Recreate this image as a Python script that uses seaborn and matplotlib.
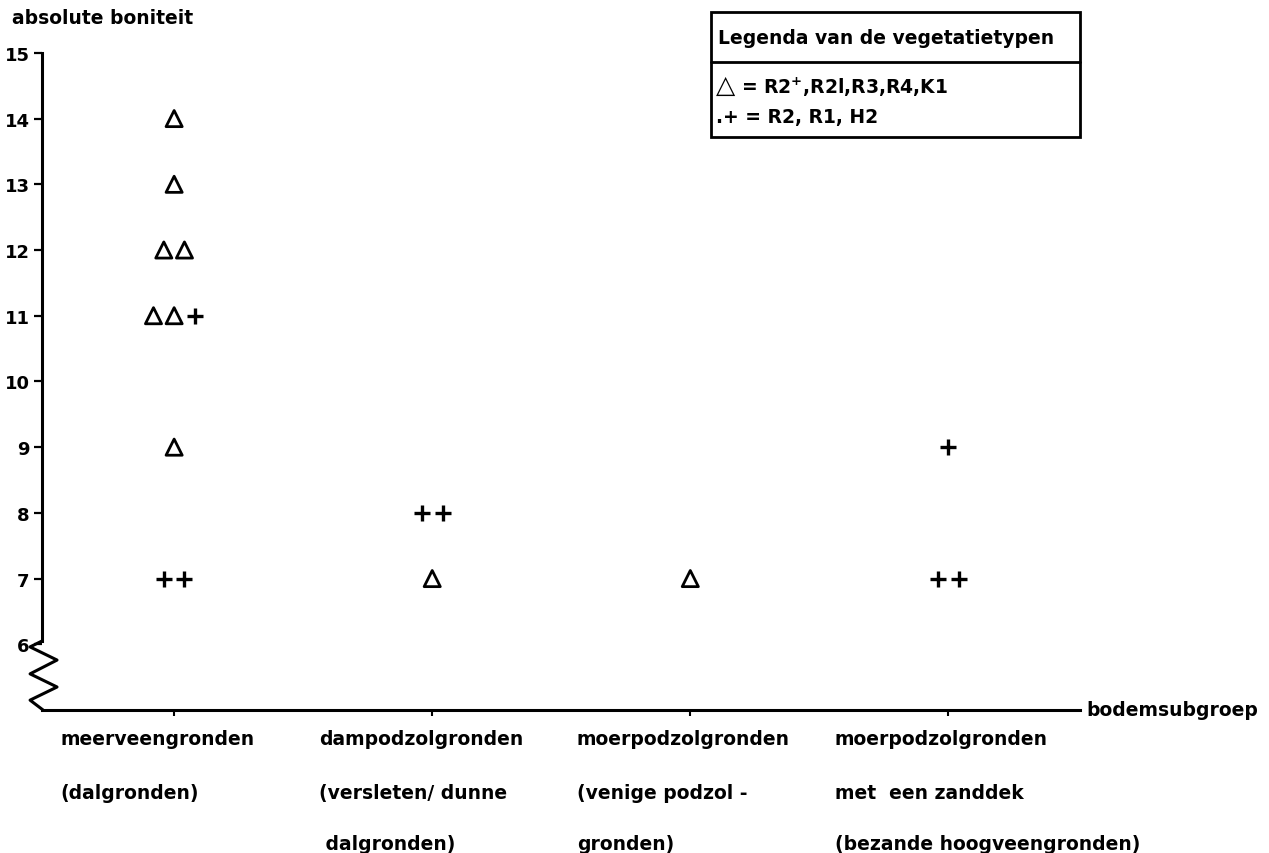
import seaborn as sns
import pandas as pd
import matplotlib.pyplot as plt
import matplotlib.transforms as mtransforms
from matplotlib.patches import Rectangle
from matplotlib.lines import Line2D

# soil subgroups (x categories), three label lines each
categories = ['meerveengronden', 'dampodzolgronden', 'moerpodzolgronden', 'moerpodzolgronden met zanddek']
cat_labels = [
    ['meerveengronden', '(dalgronden)', ''],
    ['dampodzolgronden', '(versleten/ dunne', ' dalgronden)'],
    ['moerpodzolgronden', '(venige podzol -', 'gronden)'],
    ['moerpodzolgronden', 'met  een zanddek', '(bezande hoogveengronden)'],
]

# observations: subgroup index, absolute site index, vegetation group
cat_idx = [0, 0, 0, 0, 0, 0, 0, 0, 0, 0, 1, 1, 1, 2, 3, 3, 3]
boniteit = [14, 13, 12, 12, 11, 11, 11, 9, 7, 7, 8, 8, 7, 7, 9, 7, 7]
veg_type = ['tri', 'tri', 'tri', 'tri', 'tri', 'tri', 'plus', 'tri', 'plus', 'plus',
            'plus', 'plus', 'tri', 'tri', 'plus', 'plus', 'plus']

y_ticks = list(range(6, 16))

df = pd.DataFrame({'cat': cat_idx, 'val': boniteit, 'veg': veg_type})
# marks sharing a cell are set side by side
grp = df.groupby(['cat', 'val'])
df['n'] = grp['val'].transform('size')
df['k'] = grp.cumcount()
df['x'] = df['cat'] + (df['k'] - (df['n'] - 1) / 2) * 0.08

sns.set_style('white')
plt.rcParams['font.family'] = ['DejaVu Sans']
plt.rcParams['font.weight'] = 'bold'
plt.rcParams['text.color'] = 'black'
plt.rcParams['ytick.color'] = 'black'
plt.rcParams['xtick.color'] = 'black'

fig = plt.figure(figsize=(12.69, 8.54), dpi=100)
ax = fig.add_axes([42 / 1269, 143 / 854, 1038 / 1269, 690 / 854])

sns.scatterplot(data=df[df.veg == 'tri'], x='x', y='val', marker='^', s=135,
                facecolors='none', edgecolor='black', linewidth=2, ax=ax, legend=False)
sns.scatterplot(data=df[df.veg == 'plus'], x='x', y='val', marker='+', s=135,
                color='black', linewidth=2.4, ax=ax, legend=False)

ax.set_xlim(-0.512, 3.51)
ax.set_ylim(5.0, 15.5)
ax.set_xlabel('')
ax.set_ylabel('')

for s in ['top', 'right']:
    ax.spines[s].set_visible(False)
for s in ['left', 'bottom']:
    ax.spines[s].set_linewidth(2.2)
    ax.spines[s].set_color('black')
ax.spines['left'].set_bounds(6.05, 15)

ax.set_yticks(y_ticks)
ax.set_yticklabels([str(t) for t in y_ticks], fontsize=13)
ax.set_xticks(range(len(categories)))
ax.set_xticklabels([])
ax.tick_params(axis='y', direction='out', length=6, width=1.6, pad=3, left=True)
ax.tick_params(axis='x', direction='out', length=4, width=1.5, bottom=True)

# axis break zigzag under 6
bt = mtransforms.blended_transform_factory(ax.transAxes, ax.transData)
zx = [0, -0.0115, 0.0145, -0.0115, 0.0145, -0.0115, 0.001]
zy = [6.05, 5.96, 5.76, 5.55, 5.35, 5.15, 5.0]
ax.add_line(Line2D(zx, zy, transform=bt, color='black', lw=2.2, clip_on=False))

fx = lambda p: p / 1269
fy = lambda p: (854 - p) / 854

fig.text(fx(12), fy(19), 'absolute boniteit', fontsize=13.5, ha='left', va='center')
ax.text(1.006, 0.0, 'bodemsubgroep', transform=ax.transAxes, fontsize=13.5,
        ha='left', va='center')

# category labels below the axis
lt = mtransforms.blended_transform_factory(ax.transData, fig.transFigure)
line_y = [fy(740), fy(794), fy(845)]
for i, lines in enumerate(cat_labels):
    for j, txt in enumerate(lines):
        ax.text(i - 0.44, line_y[j], txt, transform=lt, fontsize=13.5,
                ha='left', va='center')

# legend box
fig.add_artist(Rectangle((fx(711), fy(138)), fx(1080) - fx(711), fy(13) - fy(138),
                         transform=fig.transFigure, fill=False, lw=2, ec='black'))
fig.add_artist(Line2D([fx(711), fx(1080)], [fy(63), fy(63)],
                      transform=fig.transFigure, color='black', lw=2))
fig.text(fx(718), fy(38), 'Legenda van de vegetatietypen', fontsize=13.5, va='center')
fig.text(fx(716), fy(86), '\u25b3', fontsize=18, va='center')
fig.text(fx(741), fy(87), '= R2$^{\\mathbf{+}}$,R2l,R3,R4,K1', fontsize=13.5, va='center')
fig.text(fx(716), fy(118), '.+ = R2, R1, H2', fontsize=13.5, va='center')

fig.savefig('out.png', dpi=100, facecolor='white')
